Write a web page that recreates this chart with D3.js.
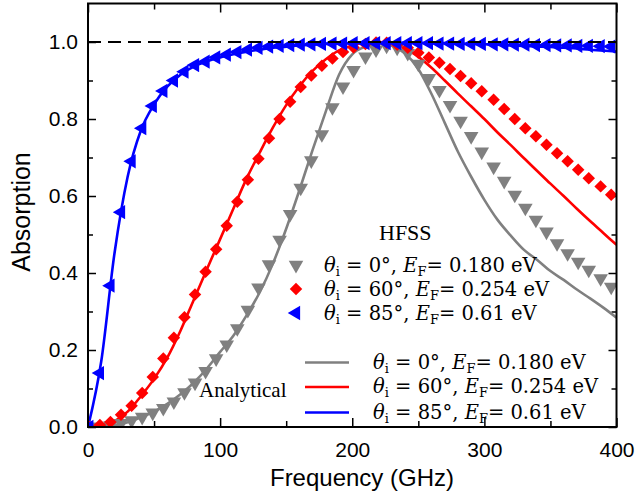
<!DOCTYPE html>
<html>
<head>
<meta charset="utf-8">
<script src="https://cdn.jsdelivr.net/npm/d3@7"></script>
<style>
  body { margin: 0; background: #fff; }
  .axis text { font-family: "Liberation Sans", Arial, sans-serif; font-size: 21px; fill: #000; }
  .axis path { display: none; }
  .axis line { stroke: #000; stroke-width: 1.5; }
</style>
</head>
<body>
<svg id="chart" width="636" height="498"></svg>
<script>
// HFSS simulation points (GHz)
const hfssFreq = [1, 9, 17, 25, 33, 41, 49, 57, 65, 73, 81, 89, 97, 105, 113, 121, 129, 137, 145, 153,
  161, 169, 177, 185, 193, 201, 210, 218, 226, 234, 242, 250, 258, 266, 274, 282, 290, 298, 307, 315,
  323, 331, 339, 347, 355, 363, 371, 379, 388, 396];

const hfss0 = [0, 0, 0.004, 0.010, 0.017, 0.026, 0.037, 0.049, 0.066, 0.09, 0.115, 0.145, 0.178, 0.214, 0.256, 0.304, 0.362, 0.422, 0.486, 0.553,
  0.621, 0.692, 0.76, 0.83, 0.884, 0.927, 0.962, 0.98, 0.99, 0.985, 0.971, 0.943, 0.906, 0.875, 0.836, 0.795, 0.755, 0.715, 0.676, 0.639,
  0.603, 0.569, 0.538, 0.507, 0.477, 0.451, 0.429, 0.408, 0.386, 0.364];

const hfss60 = [0, 0.005, 0.013, 0.032, 0.055, 0.088, 0.13, 0.178, 0.232, 0.285, 0.344, 0.403, 0.462, 0.523, 0.585, 0.642, 0.697, 0.75, 0.80, 0.845,
  0.883, 0.913, 0.938, 0.957, 0.974, 0.986, 0.995, 0.999, 0.998, 0.993, 0.985, 0.972, 0.96, 0.946, 0.93, 0.912, 0.893, 0.872, 0.85, 0.826,
  0.80, 0.776, 0.755, 0.733, 0.711, 0.69, 0.668, 0.646, 0.625, 0.603];

const hfss85 = [0, 0.14, 0.367, 0.558, 0.69, 0.776, 0.834, 0.873, 0.90, 0.923, 0.94, 0.949, 0.96, 0.967, 0.974, 0.98, 0.985, 0.988, 0.99, 0.992,
  0.993, 0.994, 0.995, 0.996, 0.996, 0.997, 0.997, 0.997, 0.997, 0.997, 0.997, 0.997, 0.997, 0.996, 0.996, 0.995, 0.995, 0.995, 0.994, 0.994,
  0.993, 0.993, 0.992, 0.992, 0.991, 0.991, 0.99, 0.99, 0.989, 0.988];

// analytical model, every 10 GHz
const anaFreq = d3.range(0, 401, 10);

const ana0 = [0, 0, 0.003, 0.012, 0.025, 0.04, 0.06, 0.085, 0.115, 0.152, 0.195, 0.237, 0.29, 0.35, 0.425, 0.515, 0.615, 0.72, 0.82, 0.915,
  0.968, 0.988, 0.996, 0.99, 0.97, 0.93, 0.865, 0.79, 0.715, 0.65, 0.59, 0.538, 0.497, 0.46, 0.434, 0.405, 0.382, 0.357, 0.334, 0.31, 0.284];

const ana60 = [0, 0.003, 0.015, 0.04, 0.08, 0.125, 0.18, 0.25, 0.33, 0.41, 0.488, 0.567, 0.645, 0.713, 0.778, 0.836, 0.885, 0.925, 0.955, 0.978,
  0.991, 0.998, 1.0, 0.996, 0.983, 0.962, 0.933, 0.9, 0.866, 0.833, 0.8, 0.765, 0.732, 0.698, 0.665, 0.632, 0.6, 0.567, 0.535, 0.504, 0.473];

const ana85 = [0, 0.17, 0.45, 0.65, 0.77, 0.838, 0.884, 0.915, 0.936, 0.95, 0.96, 0.968, 0.975, 0.98, 0.985, 0.988, 0.991, 0.993, 0.995, 0.996,
  0.997, 0.998, 0.998, 0.998, 0.998, 0.998, 0.997, 0.997, 0.996, 0.995, 0.994, 0.993, 0.991, 0.99, 0.988, 0.987, 0.985, 0.983, 0.98, 0.978, 0.975];

const labels = [
  {angle: "0", ef: "0.180", color: "#808080"},
  {angle: "60", ef: "0.254", color: "#ff0000"},
  {angle: "85", ef: "0.61", color: "#0000ff"}
];

const xTicks = [0, 100, 200, 300, 400];
const xMinor = [50, 150, 250, 350];
const yTicks = [0, 0.2, 0.4, 0.6, 0.8, 1.0];
const yMinor = [0.1, 0.3, 0.5, 0.7, 0.9];

const svg = d3.select("#chart");
const pLeft = 88, pRight = 616.5, pTop = 3.5, pBottom = 427;

let x = d3.scaleLinear().domain([0, 400]).range([pLeft, pRight]);
let y = d3.scaleLinear().domain([0, 1.1]).range([pBottom, pTop]);

svg.append("defs").append("clipPath").attr("id", "clip")
  .append("rect").attr("x", pLeft).attr("y", pTop).attr("width", pRight - pLeft).attr("height", pBottom - pTop);

// axes, ticks pointing inward
svg.append("g").attr("class", "axis").attr("transform", `translate(0,${pBottom})`)
  .call(d3.axisBottom(x).tickValues(xTicks).tickSize(-9).tickPadding(15).tickFormat(d3.format("d")));
svg.append("g").attr("class", "axis").attr("transform", `translate(0,${pBottom})`)
  .call(d3.axisBottom(x).tickValues(xMinor).tickSize(-6).tickFormat(""));
svg.append("g").attr("class", "axis").attr("transform", `translate(0,${pTop})`)
  .call(d3.axisTop(x).tickValues(xTicks).tickSize(-9).tickFormat(""));
svg.append("g").attr("class", "axis").attr("transform", `translate(0,${pTop})`)
  .call(d3.axisTop(x).tickValues(xMinor).tickSize(-6).tickFormat(""));
svg.append("g").attr("class", "axis").attr("transform", `translate(${pLeft},0)`)
  .call(d3.axisLeft(y).tickValues(yTicks).tickSize(-8).tickPadding(10).tickFormat(d3.format(".1f")));
svg.append("g").attr("class", "axis").attr("transform", `translate(${pLeft},0)`)
  .call(d3.axisLeft(y).tickValues(yMinor).tickSize(-5).tickFormat(""));
svg.append("g").attr("class", "axis").attr("transform", `translate(${pRight},0)`)
  .call(d3.axisRight(y).tickValues(yTicks).tickSize(-8).tickFormat(""));
svg.append("g").attr("class", "axis").attr("transform", `translate(${pRight},0)`)
  .call(d3.axisRight(y).tickValues(yMinor).tickSize(-5).tickFormat(""));

const plot = svg.append("g").attr("clip-path", "url(#clip)");

// analytical curves
let line = d3.line().x(d => x(d[0])).y(d => y(d[1])).curve(d3.curveMonotoneX);
[ana0, ana60, ana85].forEach((vals, i) => {
  plot.append("path")
    .datum(anaFreq.map((f, j) => [f, vals[j]]))
    .attr("fill", "none")
    .attr("stroke", labels[i].color)
    .attr("stroke-width", 2.6)
    .attr("d", line);
});

// HFSS markers
const markers = [
  {vals: hfss0, type: d3.symbolTriangle, size: 92, rot: 180},
  {vals: hfss60, type: d3.symbolSquare, size: 78, rot: 45},
  {vals: hfss85, type: d3.symbolTriangle, size: 88, rot: -90}
];
markers.forEach((m, i) => {
  plot.append("g").selectAll("path")
    .data(hfssFreq.map((f, j) => [f, m.vals[j]]))
    .enter()
    .append("path")
    .attr("d", d3.symbol().type(m.type).size(m.size))
    .attr("fill", labels[i].color)
    .attr("transform", d => `translate(${x(d[0])},${y(d[1])}) rotate(${m.rot})`);
});

// dashed reference at unity
svg.append("line")
  .attr("x1", pLeft).attr("x2", pRight)
  .attr("y1", y(1)).attr("y2", y(1))
  .attr("stroke", "#000").attr("stroke-width", 2)
  .attr("stroke-dasharray", "13,7");

// frame
svg.append("rect")
  .attr("x", pLeft).attr("y", pTop).attr("width", pRight - pLeft).attr("height", pBottom - pTop)
  .attr("fill", "none").attr("stroke", "#000").attr("stroke-width", 2);

// axis titles
svg.append("text")
  .attr("x", 362).attr("y", 486)
  .attr("text-anchor", "middle")
  .style("font-family", "'Liberation Sans', Arial, sans-serif").style("font-size", "24px")
  .text("Frequency (GHz)");
svg.append("text")
  .attr("transform", "translate(30,212) rotate(-90)")
  .attr("text-anchor", "middle")
  .style("font-family", "'Liberation Sans', Arial, sans-serif").style("font-size", "25px")
  .text("Absorption");

// legend
const serif = "'Liberation Serif', 'Times New Roman', serif";
const mathFont = "'DejaVu Serif', serif";

function legendLabel(g, tx, ty, lab) {
  let t = g.append("text").attr("x", tx).attr("y", ty)
    .style("font-family", mathFont).style("font-size", "19.5px").attr("fill", "#000");
  t.append("tspan").style("font-style", "italic").text("θ");
  t.append("tspan").attr("dy", 4).style("font-size", "13px").text("i");
  t.append("tspan").attr("dy", -4).text(` = ${lab.angle}°, `);
  t.append("tspan").style("font-style", "italic").text("E");
  t.append("tspan").attr("dy", 4).style("font-size", "13px").text("F");
  t.append("tspan").attr("dy", -4).text(`= ${lab.ef} eV`);
}

const leg = svg.append("g");
leg.append("text").attr("x", 379).attr("y", 240)
  .style("font-family", serif).style("font-size", "22px").text("HFSS");

const hfssRows = [265, 289, 313];
markers.forEach((m, i) => {
  leg.append("path")
    .attr("d", d3.symbol().type(m.type).size(m.size))
    .attr("fill", labels[i].color)
    .attr("transform", `translate(296,${hfssRows[i]}) rotate(${m.rot})`);
  legendLabel(leg, 324, hfssRows[i] + 7, labels[i]);
});

leg.append("text").attr("x", 199).attr("y", 397)
  .style("font-family", serif).style("font-size", "21px").text("Analytical");

const anaRows = [362.5, 387, 412.5];
labels.forEach((lab, i) => {
  leg.append("line")
    .attr("x1", 305).attr("x2", 349)
    .attr("y1", anaRows[i]).attr("y2", anaRows[i])
    .attr("stroke", lab.color).attr("stroke-width", 2.6);
  legendLabel(leg, 373, anaRows[i] + 6, lab);
});
</script>
</body>
</html>
